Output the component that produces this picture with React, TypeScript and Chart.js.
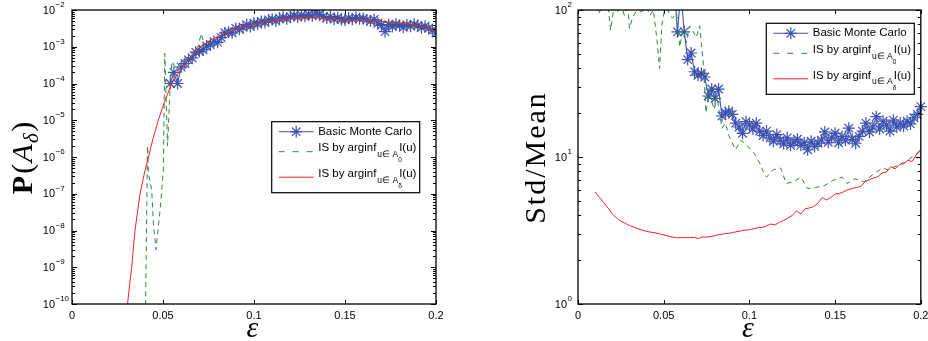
import React, { useEffect, useRef } from 'react';
import { Chart, registerables } from 'chart.js';

Chart.register(...registerables);

// ---------------- data ----------------
const mcEps = [
  0.054, 0.056, 0.058, 0.06, 0.062, 0.064, 0.066, 0.068, 0.07, 0.072,
  0.074, 0.076, 0.078, 0.08, 0.082, 0.084, 0.086, 0.088, 0.09, 0.092,
  0.094, 0.096, 0.098, 0.1, 0.102, 0.104, 0.106, 0.108, 0.11, 0.112,
  0.114, 0.116, 0.118, 0.12, 0.122, 0.124, 0.126, 0.128, 0.13, 0.132,
  0.134, 0.136, 0.138, 0.14, 0.142, 0.144, 0.146, 0.148, 0.15, 0.152,
  0.154, 0.156, 0.158, 0.16, 0.162, 0.164, 0.166, 0.168, 0.17, 0.172,
  0.174, 0.176, 0.178, 0.18, 0.182, 0.184, 0.186, 0.188, 0.19, 0.192,
  0.194, 0.196, 0.198, 0.2,
];
const mcProbLeft = [
  1.0e-4, 2.0e-4, 1.0e-4, 2.8e-4, 3.5e-4, 4.4e-4, 5.0e-4, 7.1e-4, 7.4e-4, 8.3e-4,
  1.05e-3, 1.12e-3, 1.38e-3, 1.32e-3, 1.78e-3, 2.4e-3, 2.5e-3, 2.4e-3, 3.16e-3, 3.0e-3,
  3.4e-3, 4.0e-3, 3.55e-3, 4.37e-3, 4.17e-3, 4.9e-3, 4.57e-3, 5.37e-3, 5.62e-3, 5.0e-3,
  6.03e-3, 6.31e-3, 5.75e-3, 6.61e-3, 7.08e-3, 6.46e-3, 7.24e-3, 6.76e-3, 7.59e-3, 6.92e-3,
  8.71e-3, 7.41e-3, 6.61e-3, 6.03e-3, 6.61e-3, 5.62e-3, 6.17e-3, 5.5e-3, 5.37e-3, 6.03e-3,
  5.62e-3, 6.31e-3, 5.75e-3, 5.89e-3, 5.37e-3, 5.0e-3, 5.5e-3, 4.37e-3, 3.8e-3, 2.57e-3,
  3.98e-3, 3.55e-3, 4.17e-3, 3.8e-3, 3.39e-3, 3.98e-3, 3.63e-3, 4.07e-3, 3.8e-3, 3.31e-3,
  3.63e-3, 3.16e-3, 2.88e-3, 2.34e-3,
];
const mcStdRight = [
  200, 160, 71, 130, 71, 46, 51, 38, 36, 37,
  35, 26, 29, 25, 29, 19, 20, 20.5, 19.5, 17,
  16, 14.5, 17.4, 16.5, 15.5, 17.0, 15.0, 14.0, 15.0, 13.5,
  12.8, 14.2, 13.0, 12.3, 13.5, 12.0, 12.6, 13.2, 12.0, 12.5,
  11.2, 12.8, 11.8, 12.4, 13.0, 14.8, 12.6, 13.5, 14.5, 12.5,
  13.8, 13.0, 15.7, 13.2, 12.4, 13.8, 15.0, 17.0, 14.8, 16.0,
  18.8, 15.5, 17.5, 16.5, 15.0, 17.8, 16.0, 17.0, 16.2, 17.5,
  16.8, 18.5, 19.5, 22.0,
];

const isA0EpsLeft = [
  0.0403, 0.0415, 0.042, 0.0438, 0.0447, 0.0462, 0.0484, 0.0502, 0.051, 0.0525,
  0.054, 0.055, 0.057, 0.06, 0.063, 0.066, 0.069, 0.071, 0.073, 0.076,
  0.08, 0.085, 0.09, 0.095, 0.1, 0.105, 0.11, 0.115, 0.12, 0.125,
  0.13, 0.135, 0.14, 0.145, 0.15, 0.155, 0.16, 0.165, 0.17, 0.175,
  0.18, 0.185, 0.19, 0.195, 0.2,
];
const isA0ProbLeft = [
  3e-11, 2.0e-6, 3.6e-7, 1.26e-7, 1.6e-8, 3.0e-9, 3.6e-8, 4.5e-7, 6.6e-4, 2.0e-6,
  1.0e-4, 4.0e-4, 2.5e-4, 3.5e-4, 4.5e-4, 6.0e-4, 9.0e-4, 2.3e-3, 1.0e-3, 1.3e-3,
  1.8e-3, 2.4e-3, 3.0e-3, 3.6e-3, 4.2e-3, 4.6e-3, 5.3e-3, 5.6e-3, 6.0e-3, 6.3e-3,
  6.6e-3, 6.2e-3, 5.9e-3, 5.6e-3, 5.4e-3, 5.3e-3, 5.5e-3, 5.2e-3, 4.8e-3, 4.4e-3,
  4.3e-3, 4.0e-3, 3.6e-3, 3.4e-3, 2.9e-3,
];

const isAdEpsLeft = [
  0.0305, 0.0315, 0.0328, 0.0337, 0.0346, 0.036, 0.0374, 0.0395, 0.042, 0.0445,
  0.0474, 0.0508, 0.0548, 0.06, 0.065, 0.07, 0.075, 0.08, 0.085, 0.09,
  0.095, 0.1, 0.105, 0.11, 0.115, 0.12, 0.125, 0.13, 0.135, 0.14,
  0.145, 0.15, 0.155, 0.16, 0.165, 0.17, 0.175, 0.18, 0.185, 0.19,
  0.195, 0.2,
];
const isAdProbLeft = [
  1e-10, 2.8e-10, 1e-9, 3.16e-9, 1e-8, 3.16e-8, 1e-7, 3.16e-7, 1e-6, 3.16e-6,
  1e-5, 3.16e-5, 1e-4, 2.51e-4, 5.0e-4, 9.55e-4, 1.41e-3, 1.91e-3, 2.4e-3, 3.02e-3,
  3.55e-3, 3.98e-3, 4.57e-3, 5.01e-3, 5.5e-3, 5.89e-3, 6.17e-3, 6.31e-3, 6.03e-3, 5.75e-3,
  5.5e-3, 5.37e-3, 5.25e-3, 5.37e-3, 5.13e-3, 4.9e-3, 4.68e-3, 4.47e-3, 4.17e-3, 3.8e-3,
  3.31e-3, 2.63e-3,
];

const isA0EpsRight = [
  0.01, 0.0125, 0.015, 0.0175, 0.019, 0.021, 0.023, 0.025, 0.027, 0.029,
  0.03, 0.032, 0.034, 0.036, 0.038, 0.04, 0.042, 0.044, 0.0461, 0.0476,
  0.049, 0.051, 0.053, 0.055, 0.0575, 0.0594, 0.0613, 0.0632, 0.065, 0.067,
  0.069, 0.071, 0.073, 0.0747, 0.0766, 0.078, 0.0795, 0.081, 0.084, 0.086,
  0.088, 0.0919, 0.095, 0.0995, 0.103, 0.106, 0.108, 0.11, 0.114, 0.1183,
  0.1215, 0.126, 0.13, 0.134, 0.1387, 0.144, 0.1484, 0.154, 0.157, 0.1616,
  0.167, 0.172, 0.1776, 0.181, 0.1868, 0.1906, 0.1954, 0.2,
];
const isA0StdRight = [
  130, 96, 120, 110, 73, 105, 96, 112, 92, 110,
  75, 90, 98, 97, 99, 105, 92, 100, 62, 40,
  80, 110, 96, 88, 95, 56, 75, 60, 78, 72,
  65, 78, 45, 20, 29, 24, 21, 26, 15.7, 17,
  14, 11.2, 13, 11.7, 10.5, 9.1, 8.0, 7.3, 8.2, 8.4,
  6.6, 6.8, 7.3, 6.1, 6.2, 6.4, 6.9, 7.3, 6.6, 7.1,
  6.8, 7.6, 8.4, 8.2, 8.8, 9.2, 10.1, 11.0,
];

const isAdEpsRight = [
  0.01, 0.0125, 0.015, 0.0175, 0.02, 0.0225, 0.025, 0.0275, 0.03, 0.0325,
  0.035, 0.0375, 0.04, 0.0425, 0.045, 0.0475, 0.05, 0.0525, 0.055, 0.0575,
  0.06, 0.0625, 0.065, 0.0675, 0.07, 0.0725, 0.075, 0.0775, 0.08, 0.0825,
  0.085, 0.0875, 0.09, 0.0925, 0.095, 0.0975, 0.1, 0.1025, 0.105, 0.1075,
  0.11, 0.1125, 0.115, 0.1175, 0.12, 0.1225, 0.125, 0.1275, 0.13, 0.1325,
  0.135, 0.1375, 0.14, 0.1425, 0.145, 0.1475, 0.15, 0.1525, 0.155, 0.1575,
  0.16, 0.1625, 0.165, 0.1675, 0.17, 0.1725, 0.175, 0.1775, 0.18, 0.1825,
  0.185, 0.1875, 0.19, 0.1925, 0.195, 0.1975, 0.2,
];
const isAdStdRight = [
  5.8, 5.3, 4.9, 4.5, 4.1, 3.85, 3.65, 3.55, 3.42, 3.34,
  3.25, 3.18, 3.12, 3.08, 3.05, 3.0, 2.95, 2.9, 2.85, 2.82,
  2.83, 2.82, 2.83, 2.84, 2.78, 2.86, 2.85, 2.88, 2.92, 2.97,
  3.0, 3.02, 3.06, 3.1, 3.14, 3.18, 3.2, 3.25, 3.3, 3.32,
  3.4, 3.5, 3.45, 3.6, 3.7, 3.85, 4.0, 4.3, 4.1, 4.45,
  4.5, 4.6, 4.85, 5.3, 5.1, 5.3, 5.6, 5.65, 5.8, 6.0,
  6.1, 6.2, 6.3, 6.8, 7.0, 7.2, 7.35, 7.8, 7.9, 8.6,
  8.3, 8.9, 9.0, 9.5, 9.3, 10.4, 11.3,
];

const xTickValues = [0, 0.05, 0.1, 0.15, 0.2];
const xTickLabels = ['0', '0.05', '0.1', '0.15', '0.2'];
const leftYExponents = [-10, -9, -8, -7, -6, -5, -4, -3, -2];
const rightYExponents = [0, 1, 2];

const legendBasic = 'Basic Monte Carlo';
const legendIS0 = ['IS by arginf', 'u\u2208 A', '0', 'I(u)'];
const legendISd = ['IS by arginf', 'u\u2208 A', '\u03b4', 'I(u)'];
const xTitle = '\u03b5';
const leftYTitle = ['P', '(', 'A', '\u03b4', ')'];
const rightYTitle = 'Std/Mean';

// ---------------- styling ----------------
const BLUE = '#3d51b2';
const GREEN = '#2a8a3e';
const RED = '#ff1f1f';
const SANS = '"Liberation Sans", Arial, Helvetica, sans-serif';
const SERIF = '"Liberation Serif", "Times New Roman", serif';

function pts(xs: number[], ys: number[]) {
  return xs.map((x, i) => ({ x, y: ys[i] }));
}

function drawStar(ctx: CanvasRenderingContext2D, x: number, y: number, r: number) {
  const d = r * Math.SQRT1_2;
  ctx.beginPath();
  ctx.moveTo(x - r, y); ctx.lineTo(x + r, y);
  ctx.moveTo(x, y - r); ctx.lineTo(x, y + r);
  ctx.moveTo(x - d, y - d); ctx.lineTo(x + d, y + d);
  ctx.moveTo(x - d, y + d); ctx.lineTo(x + d, y - d);
  ctx.stroke();
}

function drawISLabel(ctx: CanvasRenderingContext2D, parts: string[], x: number, yMain: number, ySub: number, ySubSub: number) {
  ctx.fillStyle = '#000';
  ctx.textAlign = 'left';
  ctx.textBaseline = 'middle';
  ctx.font = '11.5px ' + SANS;
  ctx.fillText(parts[0], x, yMain);
  let cx = x + ctx.measureText(parts[0]).width + 1;
  ctx.font = '8.5px ' + SANS;
  ctx.fillText(parts[1], cx, ySub);
  cx += ctx.measureText(parts[1]).width;
  ctx.font = '6.5px ' + SANS;
  ctx.fillText(parts[2], cx, ySubSub);
  cx += 1;
  ctx.font = '11.5px ' + SANS;
  ctx.fillText(parts[3], cx, yMain);
}

function drawLegend(ctx: CanvasRenderingContext2D, bx: number, by: number) {
  const W = 148, H = 71;
  ctx.save();
  ctx.fillStyle = '#fff';
  ctx.fillRect(bx, by, W, H);
  ctx.strokeStyle = '#000';
  ctx.lineWidth = 1.2;
  ctx.strokeRect(bx, by, W, H);
  const lx0 = bx + 7, lx1 = bx + 42, tx = bx + 46.5;
  // entry 1
  let y = by + 10;
  ctx.strokeStyle = BLUE;
  ctx.lineWidth = 1.1;
  ctx.beginPath(); ctx.moveTo(lx0, y); ctx.lineTo(lx1, y); ctx.stroke();
  ctx.lineWidth = 1.2;
  drawStar(ctx, (lx0 + lx1) / 2, y, 6);
  ctx.lineWidth = 1;
  ctx.fillStyle = '#000';
  ctx.font = '11.5px ' + SANS;
  ctx.textAlign = 'left';
  ctx.textBaseline = 'middle';
  ctx.fillText(legendBasic, tx, y);
  // entry 2
  y = by + 30;
  ctx.strokeStyle = GREEN;
  ctx.setLineDash([6, 8]);
  ctx.beginPath(); ctx.moveTo(lx0, y); ctx.lineTo(lx1, y); ctx.stroke();
  ctx.setLineDash([]);
  drawISLabel(ctx, legendIS0, tx, by + 26.5, by + 33, by + 38.5);
  // entry 3
  y = by + 55.5;
  ctx.strokeStyle = RED;
  ctx.beginPath(); ctx.moveTo(lx0, y); ctx.lineTo(lx1, y); ctx.stroke();
  drawISLabel(ctx, legendISd, tx, by + 52.5, by + 58.5, by + 64.5);
  ctx.restore();
}

type PanelOpts = {
  id: string;
  exps: number[];
  baseGap: number;
  legendDX: number;
  legendDY: number;
  which: 'left' | 'right';
  yTitleX: number;
  yTitleY: number;
};

function makeDecor(o: PanelOpts) {
  return {
    id: o.id,
    afterDraw(chart: any) {
      const ctx: CanvasRenderingContext2D = chart.ctx;
      const ca = chart.chartArea;
      const xs = chart.scales.x;
      const ys = chart.scales.y;
      ctx.save();
      // box
      ctx.strokeStyle = '#000';
      ctx.lineWidth = 1.3;
      ctx.strokeRect(ca.left, ca.top, ca.right - ca.left, ca.bottom - ca.top);
      // ticks
      ctx.lineWidth = 1;
      ctx.beginPath();
      for (const v of xTickValues) {
        const px = Math.round(xs.getPixelForValue(v)) + 0.5;
        ctx.moveTo(px, ca.bottom); ctx.lineTo(px, ca.bottom - 4);
        ctx.moveTo(px, ca.top); ctx.lineTo(px, ca.top + 4);
      }
      const lastExp = o.exps[o.exps.length - 1];
      for (const e of o.exps) {
        const py = Math.round(ys.getPixelForValue(Math.pow(10, e))) + 0.5;
        ctx.moveTo(ca.left, py); ctx.lineTo(ca.left + 5, py);
        ctx.moveTo(ca.right, py); ctx.lineTo(ca.right - 5, py);
        if (e < lastExp) {
          for (let m = 2; m <= 9; m++) {
            const pm = Math.round(ys.getPixelForValue(m * Math.pow(10, e))) + 0.5;
            ctx.moveTo(ca.left, pm); ctx.lineTo(ca.left + 3, pm);
            ctx.moveTo(ca.right, pm); ctx.lineTo(ca.right - 3, pm);
          }
        }
      }
      ctx.stroke();
      // x tick labels
      ctx.fillStyle = '#000';
      ctx.font = '11px ' + SANS;
      ctx.textAlign = 'center';
      ctx.textBaseline = 'middle';
      xTickValues.forEach((v, i) => {
        ctx.fillText(xTickLabels[i], xs.getPixelForValue(v), ca.bottom + 12);
      });
      // y tick labels
      ctx.textAlign = 'left';
      for (const e of o.exps) {
        const py = ys.getPixelForValue(Math.pow(10, e));
        ctx.font = '11px ' + SANS;
        const wb = ctx.measureText('10').width;
        const bx = ca.left - o.baseGap - wb;
        ctx.fillText('10', bx, py + 0.5);
        ctx.font = '8px ' + SANS;
        const et = e < 0 ? '\u2212' + String(-e) : String(e);
        ctx.fillText(et, bx + wb + 0.5, py - 5);
      }
      // x title
      ctx.font = 'italic 30px ' + SERIF;
      ctx.textAlign = 'center';
      ctx.textBaseline = 'alphabetic';
      ctx.fillText(xTitle, (ca.left + ca.right) / 2 - 1.5, 337);
      // y title
      ctx.save();
      ctx.translate(o.yTitleX, o.yTitleY);
      ctx.rotate(-Math.PI / 2);
      ctx.textBaseline = 'alphabetic';
      if (o.which === 'left') {
        const fonts = [
          'bold 30px ' + SERIF,
          '30px ' + SERIF,
          'italic 30px ' + SERIF,
          'italic 21px ' + SERIF,
          '30px ' + SERIF,
        ];
        const dys = [0, 0, 0, 6, 0];
        const gaps = [2, 1.5, 1, 1.5, 0];
        let total = 0;
        const widths = leftYTitle.map((t, i) => {
          ctx.font = fonts[i];
          const w = ctx.measureText(t).width;
          total += w + gaps[i];
          return w;
        });
        let cx = -total / 2;
        ctx.textAlign = 'left';
        leftYTitle.forEach((t, i) => {
          ctx.font = fonts[i];
          ctx.fillText(t, cx, dys[i]);
          cx += widths[i] + gaps[i];
        });
      } else {
        ctx.font = '30px ' + SERIF;
        (ctx as any).letterSpacing = '2px';
        ctx.textAlign = 'center';
        ctx.fillText(rightYTitle, 0, 0);
        (ctx as any).letterSpacing = '0px';
      }
      ctx.restore();
      // legend
      drawLegend(ctx, ca.left + o.legendDX, ca.top + o.legendDY);
      ctx.restore();
    },
  };
}

function buildConfig(datasets: any[], yMin: number, yMax: number, padding: any, decor: any) {
  return {
    type: 'line',
    data: { datasets },
    options: {
      responsive: false,
      animation: false,
      devicePixelRatio: 1,
      layout: { padding },
      scales: {
        x: { type: 'linear', min: 0, max: 0.2, display: false },
        y: { type: 'logarithmic', min: yMin, max: yMax, display: false },
      },
      plugins: { legend: { display: false }, tooltip: { enabled: false } },
      elements: { line: { tension: 0 } },
    },
    plugins: [decor],
  } as any;
}

function blueSeries(data: any[], clip?: any) {
  const ds: any = {
    label: legendBasic,
    data,
    borderColor: BLUE,
    backgroundColor: BLUE,
    borderWidth: 1.1,
    pointStyle: 'star',
    pointRadius: 6,
    pointBorderColor: BLUE,
    pointBorderWidth: 1.2,
    order: 3,
  };
  if (clip) ds.clip = clip;
  return ds;
}

export default function App() {
  const leftRef = useRef<HTMLCanvasElement>(null);
  const rightRef = useRef<HTMLCanvasElement>(null);

  useEffect(() => {
    const leftDatasets = [
      blueSeries(pts(mcEps, mcProbLeft)),
      {
        label: 'IS A0',
        data: pts(isA0EpsLeft, isA0ProbLeft),
        borderColor: GREEN,
        borderWidth: 1,
        borderDash: [5, 4],
        pointRadius: 0,
        order: 2,
      },
      {
        label: 'IS Ad',
        data: pts(isAdEpsLeft, isAdProbLeft),
        borderColor: RED,
        borderWidth: 1,
        pointRadius: 0,
        order: 1,
      },
    ];
    const rightDatasets = [
      blueSeries(pts(mcEps, mcStdRight), { left: 7, top: 0, right: 7, bottom: 7 }),
      {
        label: 'IS A0',
        data: pts(isA0EpsRight, isA0StdRight),
        borderColor: GREEN,
        borderWidth: 1,
        borderDash: [5, 4],
        pointRadius: 0,
        order: 2,
      },
      {
        label: 'IS Ad',
        data: pts(isAdEpsRight, isAdStdRight),
        borderColor: RED,
        borderWidth: 1,
        pointRadius: 0,
        order: 1,
      },
    ];

    const leftDecor = makeDecor({
      id: 'decorLeft', exps: leftYExponents, baseGap: 17,
      legendDX: 199.7, legendDY: 111.7, which: 'left', yTitleX: 32, yTitleY: 158,
    });
    const rightDecor = makeDecor({
      id: 'decorRight', exps: rightYExponents, baseGap: 11,
      legendDX: 188.3, legendDY: 13.3, which: 'right', yTitleX: 81, yTitleY: 157.5,
    });

    const c1 = new Chart(leftRef.current as HTMLCanvasElement,
      buildConfig(leftDatasets, 1e-10, 1e-2, { left: 72, right: 28, top: 10, bottom: 37 }, leftDecor));
    const c2 = new Chart(rightRef.current as HTMLCanvasElement,
      buildConfig(rightDatasets, 1, 100, { left: 114, right: 1, top: 10, bottom: 37 }, rightDecor));
    return () => { c1.destroy(); c2.destroy(); };
  }, []);

  return (
    <div style={{ position: 'fixed', left: 0, top: 0, width: 928, height: 341, background: '#fff', overflow: 'hidden' }}>
      <canvas ref={leftRef} width={464} height={341} style={{ position: 'absolute', left: 0, top: 0, width: 464, height: 341 }} />
      <canvas ref={rightRef} width={464} height={341} style={{ position: 'absolute', left: 464, top: 0, width: 464, height: 341 }} />
    </div>
  );
}
